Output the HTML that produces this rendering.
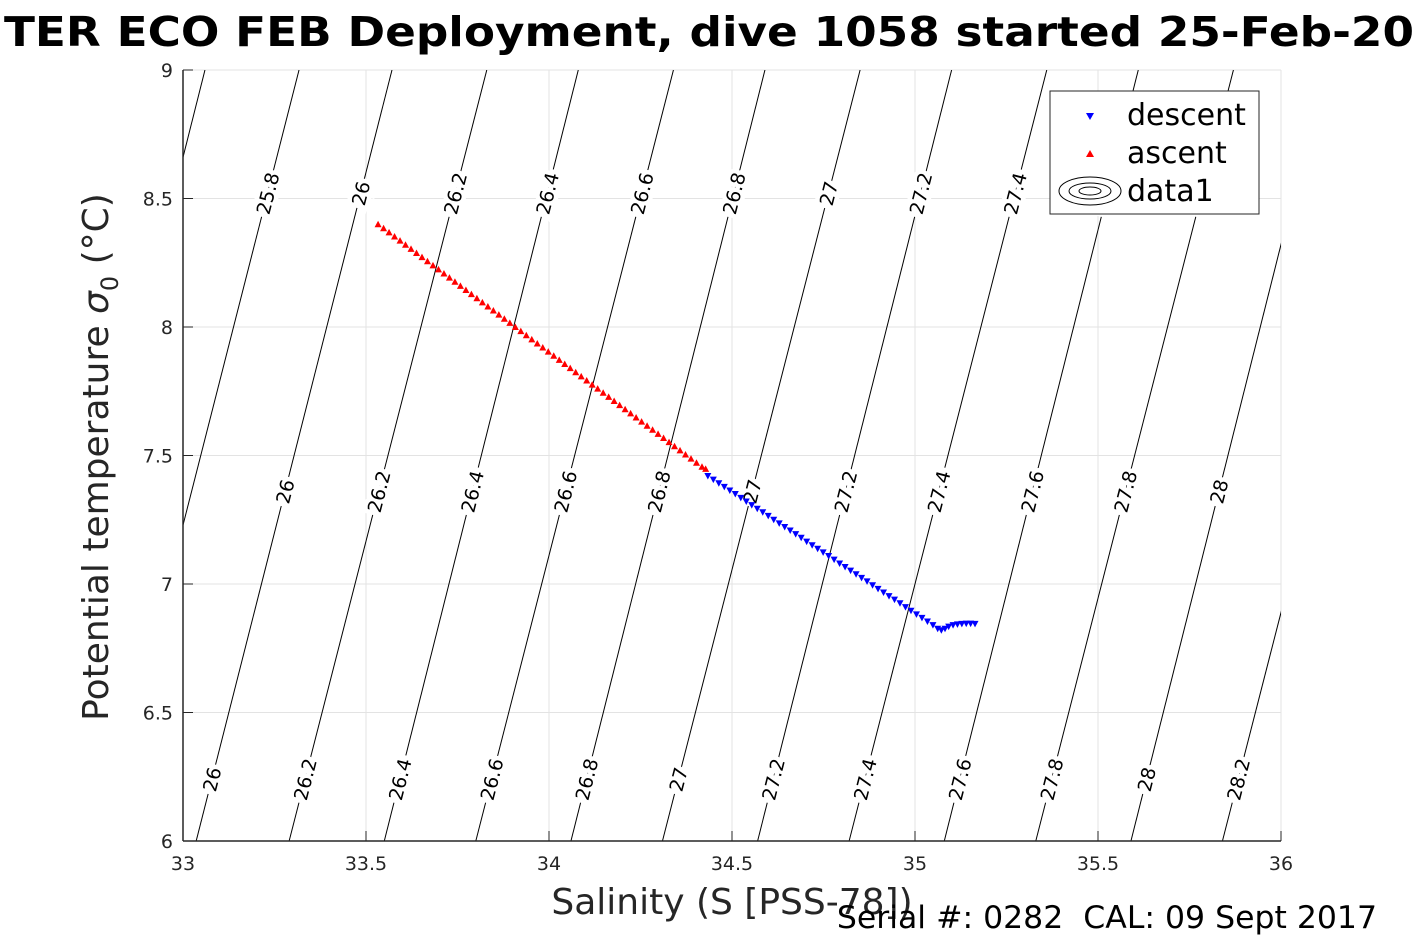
<!DOCTYPE html>
<html><head><meta charset="utf-8"><style>
body{margin:0;background:#fff;width:1417px;height:945px;overflow:hidden}
svg{display:block;font-family:"DejaVu Sans","Liberation Sans",sans-serif}
</style></head><body>
<svg id="c" width="1417" height="945">
<text x="4" y="46" font-size="41" font-weight="bold" textLength="1410" lengthAdjust="spacingAndGlyphs" fill="#000">TER ECO FEB Deployment, dive 1058 started 25-Feb-20</text>
<g id="grid"></g>
<g id="iso"></g>
<g id="ser"></g>
<g id="axes"></g>
<text x="732" y="914" font-size="36" text-anchor="middle" fill="#262626">Salinity (S [PSS-78])</text>
<text transform="translate(108,457) rotate(-90)" font-size="36" text-anchor="middle" fill="#262626">Potential temperature <tspan font-style="italic">σ</tspan><tspan font-size="24" dy="10">0</tspan><tspan dy="-10"> (°C)</tspan></text>
<text x="1377" y="928" font-size="31.5" text-anchor="end" fill="#000" style="white-space:pre">Serial #: 0282  CAL: 09 Sept 2017</text>
<g>
<rect x="1050" y="91" width="209" height="123" fill="#fff" stroke="#262626" stroke-width="1"/>
<polygon points="1086,113 1094,113 1090,120" fill="#00f"/>
<text x="1127" y="125" font-size="30">descent</text>
<polygon points="1086,157 1094,157 1090,150" fill="#f00"/>
<text x="1127" y="163" font-size="30">ascent</text>
<g fill="none" stroke="#000" stroke-width="1">
<ellipse cx="1090" cy="191" rx="31" ry="14"/><ellipse cx="1090" cy="191" rx="21" ry="8"/><ellipse cx="1090" cy="191" rx="11" ry="4"/></g>
<text x="1127" y="201" font-size="30">data1</text>
</g>
</svg>
<script>
const xTicks=[33,33.5,34,34.5,35,35.5,36];
const yTicks=[6,6.5,7,7.5,8,8.5,9];
const levels=[25.6,25.8,26,26.2,26.4,26.6,26.8,27,27.2,27.4,27.6,27.8,28,28.2];
const sAtT6=[32.53,32.78,33.036,33.29,33.55,33.80,34.06,34.31,34.57,34.82,35.08,35.33,35.59,35.84];
const sAtT9=[33.06,33.317,33.571,33.83,34.08,34.34,34.59,34.85,35.10,35.36,35.61,35.87,36.12,36.38];
const labelRowT=[8.52,7.36,6.24];
const ascS=[33.533,33.548,33.563,33.578,33.593,33.608,33.623,33.638,33.653,33.668,33.683,33.698,33.713,33.728,33.743,33.758,33.773,33.788,33.803,33.818,33.833,33.848,33.863,33.878,33.893,33.908,33.923,33.938,33.953,33.968,33.983,33.998,34.013,34.028,34.043,34.058,34.073,34.088,34.103,34.118,34.133,34.148,34.163,34.178,34.193,34.208,34.223,34.238,34.253,34.268,34.283,34.298,34.313,34.328,34.343,34.358,34.373,34.388,34.403,34.418,34.428];
const ascT=[8.400,8.384,8.368,8.352,8.336,8.320,8.304,8.288,8.272,8.256,8.240,8.224,8.208,8.192,8.176,8.160,8.144,8.128,8.112,8.096,8.080,8.064,8.048,8.032,8.016,8.000,7.984,7.968,7.952,7.936,7.920,7.904,7.888,7.872,7.856,7.840,7.824,7.808,7.792,7.776,7.760,7.744,7.728,7.712,7.696,7.680,7.664,7.648,7.632,7.616,7.600,7.584,7.568,7.552,7.536,7.520,7.504,7.488,7.472,7.456,7.448];
const desS=[34.434,34.449,34.464,34.479,34.494,34.509,34.524,34.539,34.554,34.569,34.584,34.599,34.614,34.629,34.644,34.659,34.674,34.689,34.704,34.719,34.734,34.749,34.764,34.779,34.794,34.809,34.824,34.839,34.854,34.869,34.884,34.899,34.914,34.929,34.944,34.959,34.974,34.989,35.004,35.019,35.034,35.049,35.062,35.072,35.082,35.092,35.104,35.116,35.128,35.140,35.152,35.164];
const desT=[7.420,7.406,7.392,7.378,7.364,7.350,7.335,7.321,7.307,7.293,7.279,7.265,7.250,7.236,7.222,7.208,7.194,7.180,7.165,7.151,7.137,7.123,7.109,7.095,7.080,7.066,7.052,7.038,7.024,7.010,6.995,6.981,6.967,6.953,6.939,6.925,6.910,6.896,6.882,6.868,6.854,6.840,6.826,6.820,6.826,6.834,6.840,6.843,6.845,6.846,6.846,6.845];
const X0=183,X1=1281,Y0=841,Y1=70,S0=33,S1=36,T0=6,T1=9;
const sx=s=>X0+(s-S0)/(S1-S0)*(X1-X0);
const ty=t=>Y0-(t-T0)/(T1-T0)*(Y0-Y1);
const NS='http://www.w3.org/2000/svg';
function mk(tag,attrs,parent){const e=document.createElementNS(NS,tag);for(const k in attrs)e.setAttribute(k,attrs[k]);parent.appendChild(e);return e;}
const grid=document.getElementById('grid'),iso=document.getElementById('iso'),ser=document.getElementById('ser'),axes=document.getElementById('axes');
const cp=mk('clipPath',{id:'pc'},document.getElementById('c'));mk('rect',{x:X0,y:Y1,width:X1-X0,height:Y0-Y1},cp);
iso.setAttribute('clip-path','url(#pc)');ser.setAttribute('clip-path','url(#pc)');
xTicks.forEach(v=>{const g=mk('line',{x1:sx(v),x2:sx(v),y1:Y1,y2:Y0,stroke:'#e3e3e3','stroke-width':1},grid);

const t=mk('text',{x:sx(v),y:Y0+29,'font-size':19,'text-anchor':'middle',fill:'#262626'},axes);t.textContent=String(v);

mk('line',{x1:sx(v),x2:sx(v),y1:Y0,y2:Y0-10,stroke:'#262626'},axes);});
yTicks.forEach(v=>{const g=mk('line',{x1:X0,x2:X1,y1:ty(v),y2:ty(v),stroke:'#e3e3e3','stroke-width':1},grid);

const t=mk('text',{x:X0-10,y:ty(v)+7,'font-size':19,'text-anchor':'end',fill:'#262626'},axes);t.textContent=String(v);

mk('line',{x1:X0,x2:X0+10,y1:ty(v),y2:ty(v),stroke:'#262626'},axes);});
mk('line',{x1:X0,x2:X1,y1:Y0,y2:Y0,stroke:'#262626','stroke-width':1.5},axes);
mk('line',{x1:X0,x2:X0,y1:Y1,y2:Y0,stroke:'#262626','stroke-width':1.5},axes);
levels.forEach((L,i)=>{const x6=sx(sAtT6[i]),x9=sx(sAtT9[i]);
const ln=mk('line',{x1:x6,y1:ty(6),x2:x9,y2:ty(9),stroke:'#000','stroke-width':1},iso);

const ang=Math.atan2(ty(9)-ty(6),x9-x6)*180/Math.PI;
labelRowT.forEach(T=>{const f=(T-6)/3;const x=x6+(x9-x6)*f,y=ty(T);
if(x<X0+12||x>X1-10)return;
const t=mk('text',{transform:`translate(${x},${y}) rotate(${ang})`,'font-size':19,'text-anchor':'middle',dy:7,fill:'#000',stroke:'#fff','stroke-width':9,'paint-order':'stroke'},iso);
t.textContent=String(L);});});
ascS.forEach((s,i)=>{const x=sx(s),y=ty(ascT[i]);
const p=mk('polygon',{points:`${x-3.5},${y+3} ${x+3.5},${y+3} ${x},${y-3.5}`,fill:'#f00'},ser);
});
desS.forEach((s,i)=>{const x=sx(s),y=ty(desT[i]);
const p=mk('polygon',{points:`${x-3.5},${y-3} ${x+3.5},${y-3} ${x},${y+3.5}`,fill:'#00f'},ser);
});
</script>
</body></html>
